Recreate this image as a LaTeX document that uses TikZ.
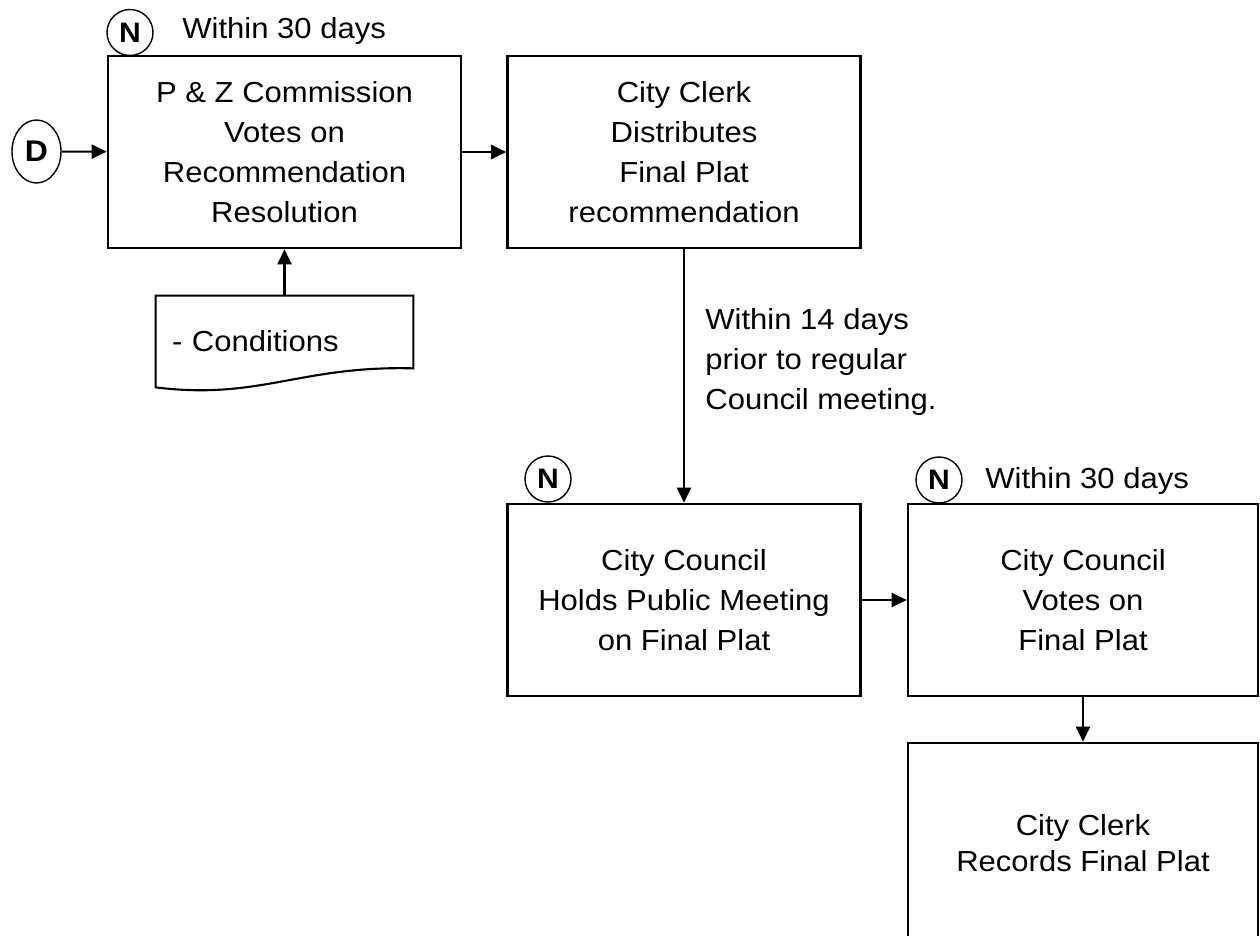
\documentclass[tikz,border=0pt]{standalone}
\usepackage{fontspec}
\setmainfont{Liberation Sans}[FakeStretch=1.07]
\usetikzlibrary{shapes.geometric,arrows.meta}

\begin{document}
\begin{tikzpicture}[
    >={Triangle[length=0.3cm,width=0.28cm]},
    every node/.style={font=\fontsize{16.5}{22.8}\selectfont},
    stepbox/.style={draw, line width=1.5pt, minimum width=7.06cm, minimum height=3.84cm, align=center},
    note/.style={draw, circle, line width=0.8pt, inner sep=0pt, minimum size=0.92cm, font=\fontsize{16}{18}\selectfont\bfseries},
    remark/.style={inner sep=0pt},
    flow/.style={->, line width=1.2pt}
]
    \useasboundingbox (0,0) rectangle (25.2,-18.7);

    \node[stepbox] (vote) at (5.69,-3.04) {P \& Z Commission\\Votes on\\Recommendation\\Resolution};
    \node[stepbox] (distribute) at (13.68,-3.04) {City Clerk\\Distributes\\Final Plat\\recommendation};
    \node[stepbox] (hearing) at (13.68,-12.0) {City Council\\Holds Public Meeting\\on Final Plat};
    \node[stepbox, minimum width=7.0cm] (council) at (21.66,-12.0) {City Council\\Votes on\\Final Plat};
    \node[stepbox, minimum width=7.0cm, minimum height=4.0cm, font=\fontsize{16.5}{20.5}\selectfont] (record) at (21.66,-16.86) {City Clerk\\Records Final Plat};

    \node[draw, ellipse, line width=0.8pt, inner sep=0pt, minimum width=0.98cm, minimum height=1.26cm, font=\fontsize{17}{19}\selectfont\bfseries] (d) at (0.73,-3.03) {D};
    \node[note] (n1) at (2.6,-0.65) {N};
    \node[note] (n2) at (10.96,-9.58) {N};
    \node[note] (n3) at (18.78,-9.6) {N};

    \node[remark, anchor=base west] (days1) at (3.64,-0.76) {Within 30 days};
    \node[remark, anchor=base west] (days2) at (19.7,-9.76) {Within 30 days};
    \node[remark, anchor=west, align=left] (prior) at (14.1,-7.24) {Within 14 days\\prior to regular\\Council meeting.};

    \node[inner xsep=0.32cm, text width=4.5cm, minimum height=1.82cm, align=left] (cond) at (5.69,-6.83) {- Conditions};
    \draw[line width=1.2pt] (cond.south west) -- (cond.north west) -- (cond.north east) -- ([yshift=0.38cm]cond.south east) .. controls +(-2.26,0.06) and +(2.08,-0.26) .. (cond.south west) -- cycle;

    \draw[flow] (d) -- (vote);
    \draw[flow] (vote) -- (distribute);
    \draw[flow] (cond) -- (vote);
    \draw[flow] (distribute) -- (hearing);
    \draw[flow] (hearing) -- (council);
    \draw[flow] (council) -- (record);
\end{tikzpicture}
\end{document}
